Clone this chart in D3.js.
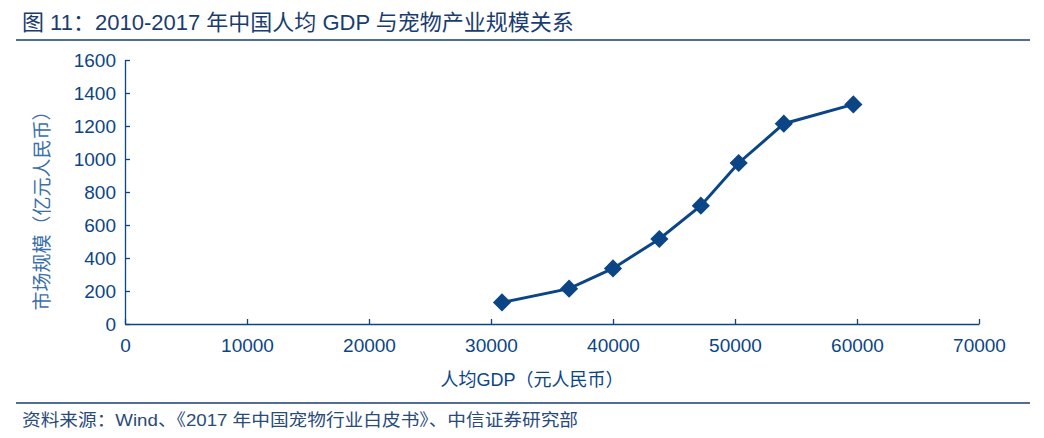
<!DOCTYPE html>
<html>
<head>
<meta charset="utf-8">
<script src="https://cdn.jsdelivr.net/npm/d3@7"></script>
<style>
  body { margin: 0; background: #fff; }
  svg { display: block; font-family: "Liberation Sans", Arial, "Noto Sans CJK SC", sans-serif; }
</style>
</head>
<body>
<svg id="chart" width="1044" height="438"></svg>
<script>
// data: GDP per capita (yuan) vs pet market size (100m yuan)
var gdp = [30900, 36400, 40000, 43800, 47200, 50300, 54000, 59700];
var marketSize = [131, 214, 337, 515, 717, 976, 1214, 1331];
var xTicks = [0, 10000, 20000, 30000, 40000, 50000, 60000, 70000];
var yTicks = [0, 200, 400, 600, 800, 1000, 1200, 1400, 1600];

var titleText = "图 11：2010-2017 年中国人均 GDP 与宠物产业规模关系";
var xTitle = "人均GDP（元人民币）";
var yTitle = "市场规模（亿元人民币）";
var sourceText = "资料来源：Wind、《2017 年中国宠物行业白皮书》、中信证券研究部";

var blue = "#0c4585";

var margin = {top: 60, right: 65, bottom: 114, left: 125},
    width = 1044 - margin.left - margin.right,
    height = 438 - margin.top - margin.bottom;

var svg = d3.select("#chart");

// title and rules
svg.append("text")
    .attr("x", 22).attr("y", 30)
    .attr("font-size", 22)
    .attr("fill", "#1b3d6e")
    .text(titleText);
svg.append("line")
    .attr("x1", 16).attr("x2", 1030).attr("y1", 40).attr("y2", 40)
    .attr("stroke", "#1b3d6e").attr("stroke-width", 1.5);
svg.append("line")
    .attr("x1", 16).attr("x2", 1030).attr("y1", 403).attr("y2", 403)
    .attr("stroke", "#1b3d6e").attr("stroke-width", 1.5);
svg.append("text")
    .attr("x", 22).attr("y", 426)
    .attr("font-size", 17)
    .attr("textLength", 556)
    .attr("lengthAdjust", "spacingAndGlyphs")
    .attr("fill", "#2a4b7a")
    .text(sourceText);

var g = svg.append("g")
    .attr("transform", "translate(" + margin.left + "," + margin.top + ")");

var x = d3.scaleLinear().domain([0, 70000]).range([0, width]);
var y = d3.scaleLinear().domain([0, 1600]).range([height, 0]);

// axes with inward ticks
var xAxis = g.append("g")
    .attr("transform", "translate(0," + height + ")")
    .call(d3.axisBottom(x).tickValues(xTicks).tickSizeInner(-5).tickSizeOuter(0).tickPadding(15).tickFormat(d3.format("d")));
var yAxis = g.append("g")
    .call(d3.axisLeft(y).tickValues(yTicks).tickSizeInner(-5).tickSizeOuter(0).tickPadding(9).tickFormat(d3.format("d")));

[xAxis, yAxis].forEach(function(a) {
    a.select(".domain").attr("stroke", blue).attr("stroke-width", 1.3);
    a.selectAll(".tick line").attr("stroke", blue).attr("stroke-width", 1.3);
    a.selectAll(".tick text")
        .attr("fill", blue)
        .attr("font-size", 19)
        .attr("font-family", "Liberation Sans, Arial, sans-serif");
});
xAxis.selectAll(".tick text").attr("dy", "0.71em");

// axis titles
svg.append("text")
    .attr("x", 532).attr("y", 386)
    .attr("text-anchor", "middle")
    .attr("font-size", 18)
    .attr("fill", blue)
    .text(xTitle);
svg.append("text")
    .attr("transform", "translate(49," + 206 + ") rotate(-90)")
    .attr("text-anchor", "middle")
    .attr("font-size", 19)
    .attr("fill", "#3b6fa8")
    .text(yTitle);

// line and markers
var data = gdp.map(function(d, i) { return {gdp: d, value: marketSize[i]}; });

var line = d3.line()
    .x(function(d) { return x(d.gdp); })
    .y(function(d) { return y(d.value); });

g.append("path")
    .datum(data)
    .attr("fill", "none")
    .attr("stroke", blue)
    .attr("stroke-width", 3)
    .attr("d", line);

g.selectAll(".pt")
    .data(data)
    .enter().append("path")
    .attr("class", "pt")
    .attr("transform", function(d) { return "translate(" + x(d.gdp) + "," + y(d.value) + ") rotate(45)"; })
    .attr("d", d3.symbol().type(d3.symbolSquare).size(165))
    .attr("fill", blue);
</script>
</body>
</html>
